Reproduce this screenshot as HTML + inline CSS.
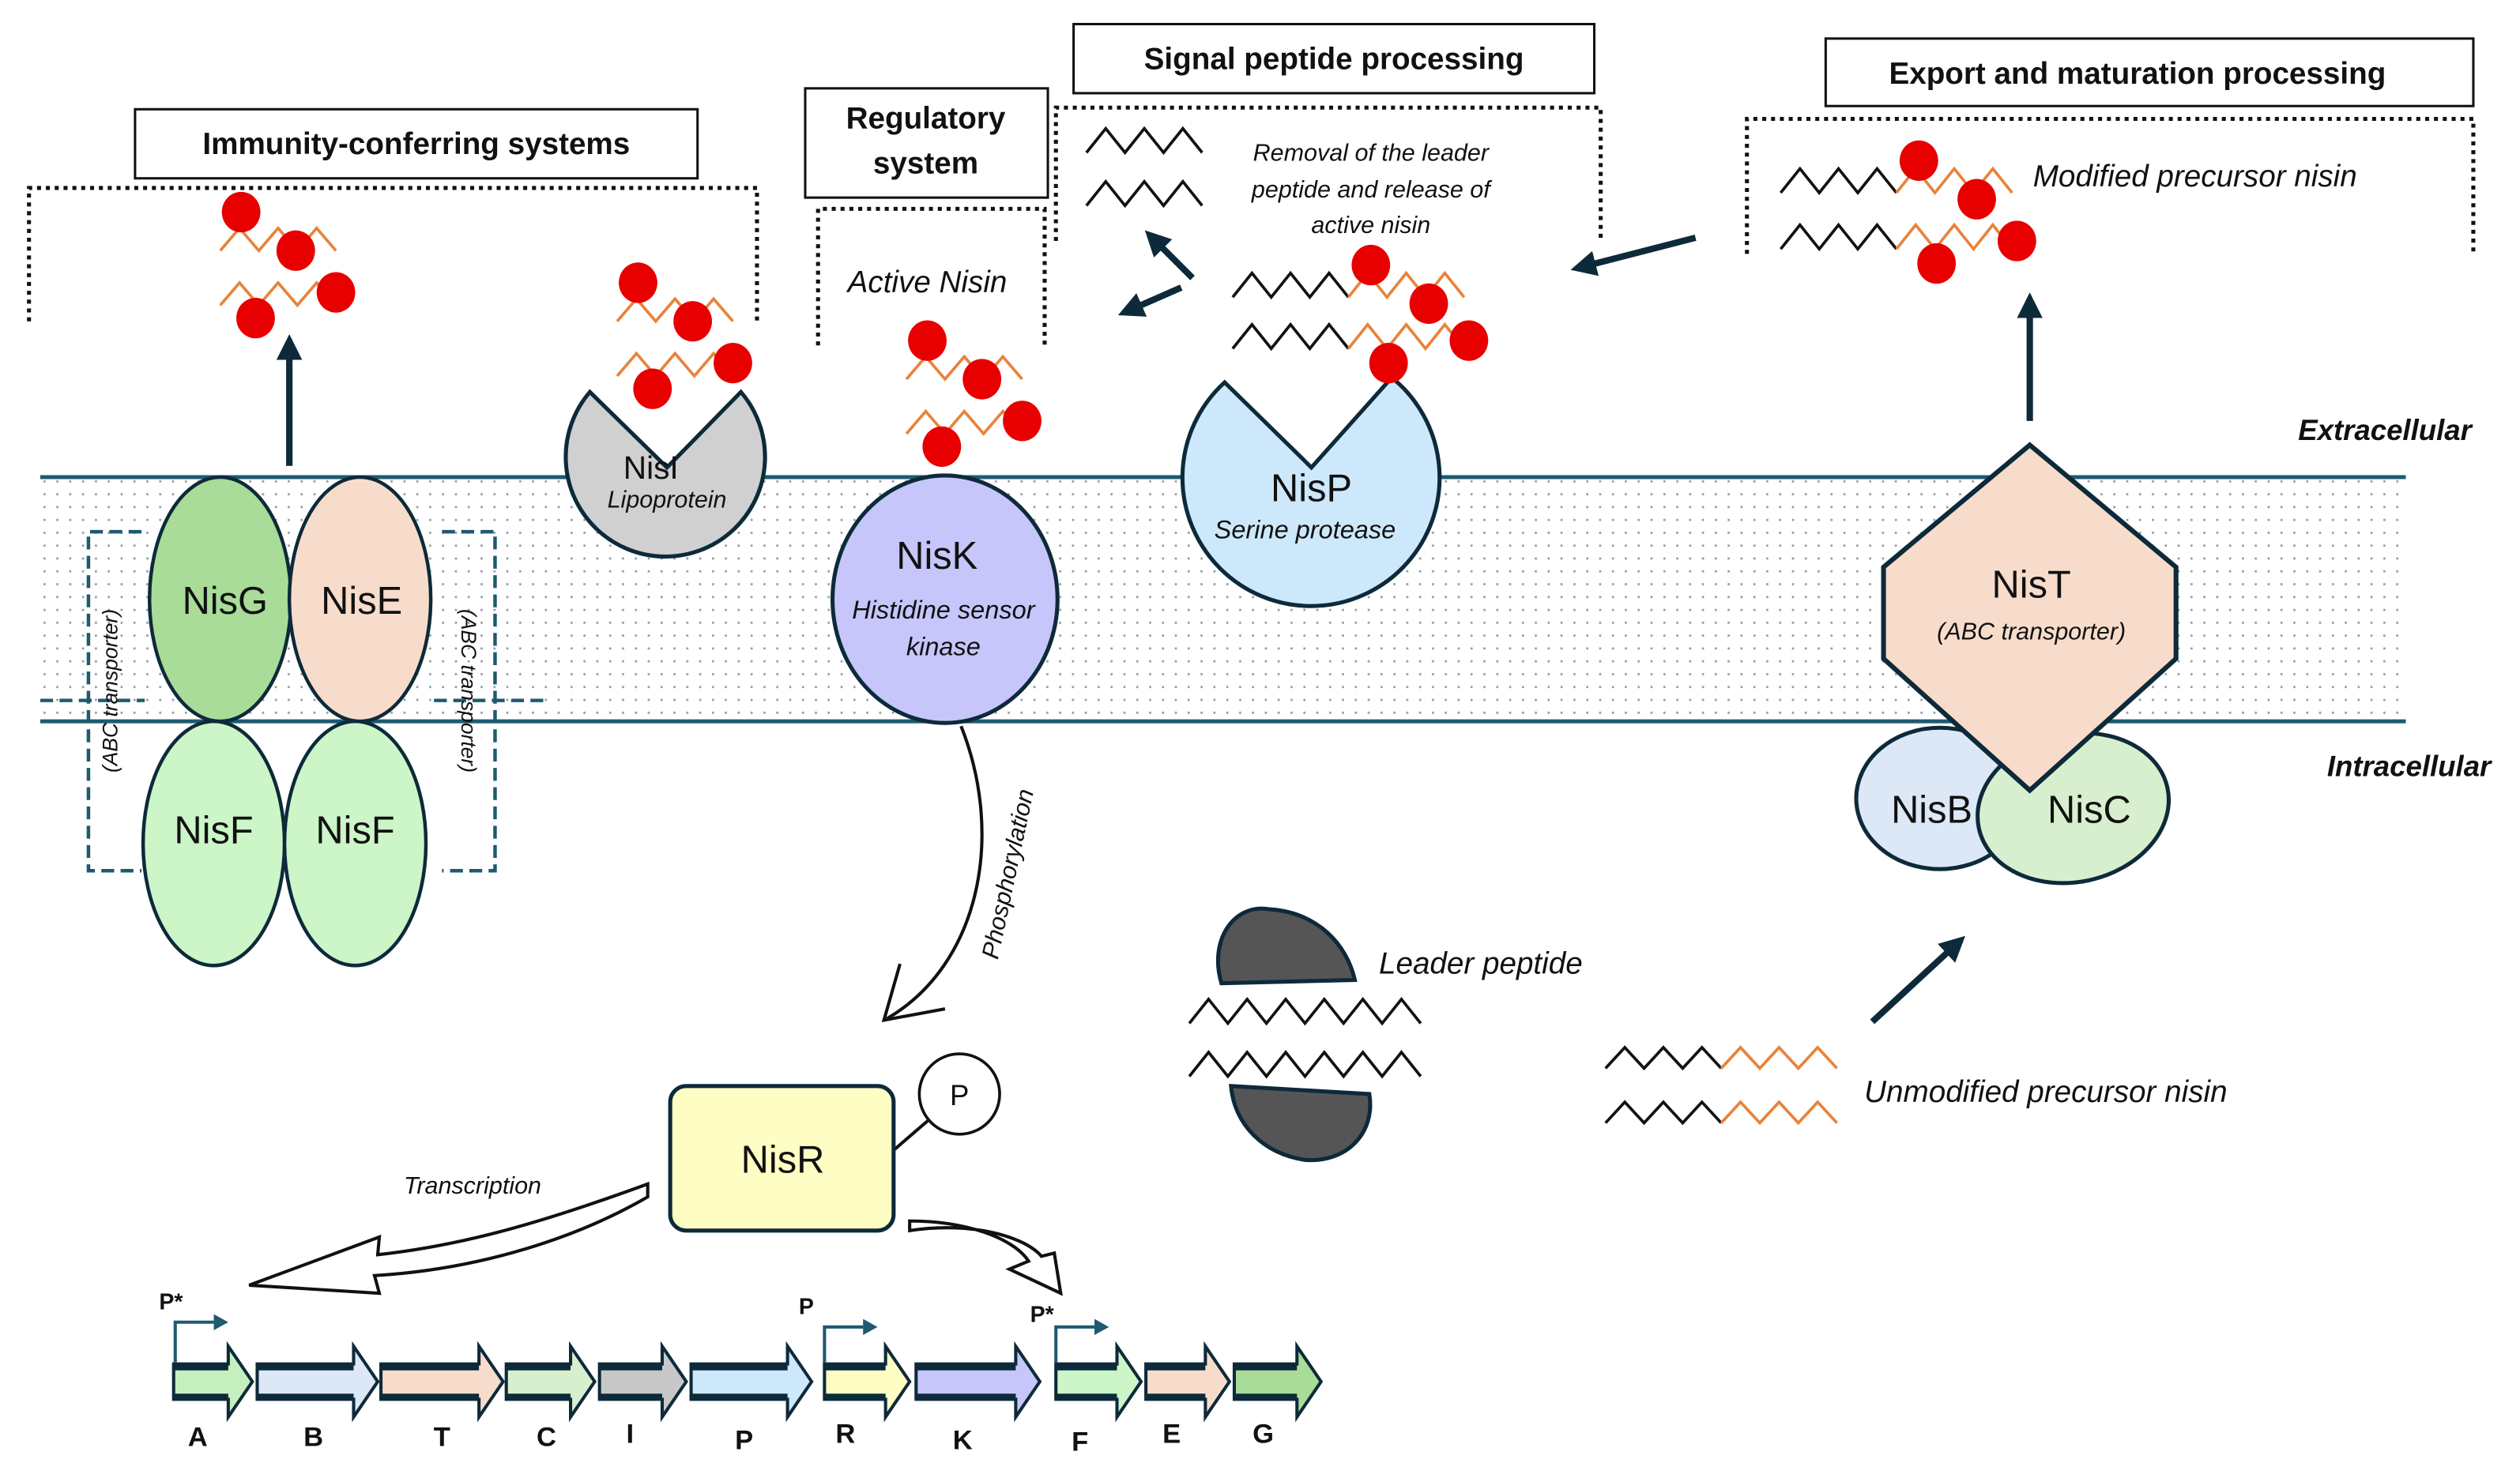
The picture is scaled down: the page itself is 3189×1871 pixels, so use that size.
<!DOCTYPE html>
<html><head><meta charset="utf-8"><style>
html,body{margin:0;padding:0;background:#fff;}
svg{display:block;}
text{font-family:"Liberation Sans",sans-serif;fill:#111;}
</style></head><body>
<svg id="s" width="3189" height="1871" viewBox="0 0 1568 920" xmlns="http://www.w3.org/2000/svg">
<defs>
<pattern id="dots" width="8" height="8" patternUnits="userSpaceOnUse">
<rect x="3" y="3" width="1.3" height="1.3" fill="#8a9aa4"/>
</pattern>
<marker id="ah" markerWidth="4" markerHeight="4" refX="2" refY="2" orient="auto" markerUnits="strokeWidth"><path d="M0,0 L4,2 L0,4 z" fill="#0d2a3a"/></marker>
</defs>
<rect width="1568" height="920" fill="#fff"/>
<rect x="25" y="297" width="1472" height="152" fill="url(#dots)"/>
<line x1="25" y1="297" x2="1497" y2="297" stroke="#1e5a70" stroke-width="2.5"/>
<line x1="25" y1="449" x2="1497" y2="449" stroke="#1e5a70" stroke-width="2.5"/>
<text x="1538" y="274" text-anchor="end" font-size="18" font-weight="bold" font-style="italic">Extracellular</text>
<text x="1550" y="483" text-anchor="end" font-size="18" font-weight="bold" font-style="italic">Intracellular</text>

<g fill="#fff" stroke="#111" stroke-width="1.5">
<rect x="84" y="68" width="350" height="43"/>
<rect x="501" y="55" width="151" height="68"/>
<rect x="668" y="15" width="324" height="43"/>
<rect x="1136" y="24" width="403" height="42"/>
</g>
<g font-weight="bold" font-size="19" text-anchor="middle">
<text x="259" y="96">Immunity-conferring systems</text>
<text x="576" y="80">Regulatory</text>
<text x="576" y="108">system</text>
<text x="830" y="43">Signal peptide processing</text>
<text x="1330" y="52">Export and maturation processing</text>
</g>
<g fill="none" stroke="#111" stroke-width="2.5" stroke-dasharray="2.5,3">
<path d="M18,200 V117 H471 V200"/>
<path d="M509,215 V130 H650 V215"/>
<path d="M657,150 V67 H996 V150"/>
<path d="M1087,158 V74 H1539 V158"/>
</g>

<g fill="none" stroke="#1e5a70" stroke-width="2.2" stroke-dasharray="8,4">
<path d="M88,331 H55 V542 H88"/>
<path d="M275,331 H308 V542 H275"/>
<line x1="25" y1="436" x2="90" y2="436"/>
<line x1="270" y1="436" x2="340" y2="436"/>
</g>
<text transform="translate(73,430) rotate(-90)" text-anchor="middle" font-size="13" font-style="italic">(ABC transporter)</text>
<text transform="translate(287,430) rotate(90)" text-anchor="middle" font-size="13" font-style="italic">(ABC transporter)</text>

<g stroke="#0d2a3a" stroke-width="2.2">
<ellipse cx="133" cy="525" rx="44" ry="76" fill="#ccf5c8"/>
<ellipse cx="221" cy="525" rx="44" ry="76" fill="#ccf5c8"/>
<ellipse cx="137" cy="373" rx="44" ry="76" fill="#a9dc98"/>
<ellipse cx="224" cy="373" rx="44" ry="76" fill="#f8dccb"/>
</g>
<g font-size="24" text-anchor="middle">
<text x="140" y="382">NisG</text><text x="225" y="382">NisE</text>
<text x="133" y="525">NisF</text><text x="221" y="525">NisF</text>
</g>

<path d="M367,244 L415,291 L461,244 A62,62 0 1 1 367,244 Z" fill="#d0d0d0" stroke="#0d2a3a" stroke-width="2.5"/>
<text x="405" y="298" text-anchor="middle" font-size="20">NisI</text>
<text x="415" y="316" text-anchor="middle" font-size="15" font-style="italic">Lipoprotein</text>

<ellipse cx="588" cy="373" rx="70" ry="77" fill="#c6c6fa" stroke="#0d2a3a" stroke-width="2.5"/>
<text x="583" y="354" text-anchor="middle" font-size="24">NisK</text>
<text x="587" y="385" text-anchor="middle" font-size="16" font-style="italic">Histidine sensor</text>
<text x="587" y="408" text-anchor="middle" font-size="16" font-style="italic">kinase</text>
<text x="577" y="182" text-anchor="middle" font-size="19" font-style="italic">Active Nisin</text>

<path d="M762,238 L816,291 L866,235 A80,80 0 1 1 762,238 Z" fill="#cde8fb" stroke="#0d2a3a" stroke-width="2.5"/>
<text x="816" y="312" text-anchor="middle" font-size="24">NisP</text>
<text x="812" y="335" text-anchor="middle" font-size="16" font-style="italic">Serine protease</text>

<text x="853" y="100" text-anchor="middle" font-size="15" font-style="italic">Removal of the leader</text>
<text x="853" y="123" text-anchor="middle" font-size="15" font-style="italic">peptide and release of</text>
<text x="853" y="145" text-anchor="middle" font-size="15" font-style="italic">active nisin</text>

<g stroke="#0d2a3a" stroke-width="2.5">
<ellipse cx="1207" cy="497" rx="52" ry="44" fill="#dce8f6"/>
<ellipse cx="1290" cy="503" rx="60" ry="46" transform="rotate(-12 1290 503)" fill="#d8efcf"/>
<path d="M1263,277 L1354,353 L1354,410 L1263,492 L1172,410 L1172,353 Z" fill="#f8dccb" stroke-width="3"/>
</g>
<text x="1264" y="372" text-anchor="middle" font-size="24">NisT</text>
<text x="1264" y="398" text-anchor="middle" font-size="15" font-style="italic">(ABC transporter)</text>
<text x="1202" y="512" text-anchor="middle" font-size="24">NisB</text>
<text x="1300" y="512" text-anchor="middle" font-size="24">NisC</text>

<text x="1265" y="116" font-size="19" font-style="italic">Modified precursor nisin</text>
<text x="858" y="606" font-size="19" font-style="italic">Leader peptide</text>
<text x="1160" y="686" font-size="19" font-style="italic">Unmodified precursor nisin</text>

<path d="M760,612 C752,585 768,562 790,566 C820,568 838,588 843,610 Z" fill="#555" stroke="#0d2a3a" stroke-width="2.5"/>
<path d="M766,676 L852,681 C856,705 838,724 812,722 C786,718 768,700 766,676 Z" fill="#555" stroke="#0d2a3a" stroke-width="2.5"/>

<g stroke="#0d2a3a" stroke-width="4" fill="none" marker-end="url(#ah)">
<line x1="180" y1="290" x2="180" y2="216"/>
<line x1="1263" y1="262" x2="1263" y2="190"/>
<line x1="1055" y1="148" x2="985" y2="166"/>
<line x1="742" y1="173" x2="718" y2="149"/>
<line x1="735" y1="179" x2="703" y2="193"/>
<line x1="1165" y1="636" x2="1217" y2="588"/>
</g>

<path d="M598,452 C625,520 610,600 552,634" fill="none" stroke="#111" stroke-width="2"/>
<path d="M560,600 L550,635 L588,628" fill="none" stroke="#111" stroke-width="2"/>
<text transform="translate(632,545) rotate(-78)" text-anchor="middle" font-size="15" font-style="italic">Phosphorylation</text>

<line x1="556" y1="716" x2="578" y2="697" stroke="#111" stroke-width="2"/>
<rect x="417" y="676" width="139" height="90" rx="10" fill="#fdfdc4" stroke="#0d2a3a" stroke-width="2.5"/>
<text x="487" y="730" text-anchor="middle" font-size="24">NisR</text>
<circle cx="597" cy="681" r="25" fill="#fff" stroke="#111" stroke-width="1.8"/>
<text x="597" y="688" text-anchor="middle" font-size="18">P</text>
<text x="294" y="743" text-anchor="middle" font-size="15" font-style="italic">Transcription</text>

<path d="M403,737 C340,760 290,775 235,781 L236,770 L155,800 L236,805 L233,794 C300,790 360,770 403,745 Z" fill="#fff" stroke="#111" stroke-width="2"/>
<path d="M566,760 C600,760 630,770 640,785 L628,790 L660,805 L656,780 L648,782 C638,770 605,760 566,766 Z" fill="#fff" stroke="#111" stroke-width="2"/>

<g fill="none" stroke="#1e5a70" stroke-width="2">
<path d="M109,848 V823 H133"/><path d="M513,848 V826 H537"/><path d="M657,848 V826 H681"/>
</g>
<g fill="#1e5a70"><path d="M133,818 L142,823 L133,828z"/><path d="M537,821 L546,826 L537,831z"/><path d="M681,821 L690,826 L681,831z"/></g>
<g font-weight="bold" font-size="14">
<text x="99" y="815">P*</text><text x="497" y="818">P</text><text x="641" y="823">P*</text>
</g>
<g id="genes" stroke="#0d2a3a" stroke-width="2"></g>
<g font-weight="bold" font-size="17" text-anchor="middle">
<text x="123" y="900">A</text><text x="195" y="900">B</text><text x="275" y="900">T</text><text x="340" y="900">C</text><text x="392" y="898">I</text><text x="463" y="902">P</text><text x="526" y="898">R</text><text x="599" y="902">K</text><text x="672" y="903">F</text><text x="729" y="898">E</text><text x="786" y="898">G</text>
</g>
<g id="pep"></g>
</svg>
<script>
var NS="http://www.w3.org/2000/svg";
function el(tag,attrs,parent){var e=document.createElementNS(NS,tag);for(var k in attrs)e.setAttribute(k,attrs[k]);(parent||document.getElementById('pep')).appendChild(e);return e;}
function zz(x,y,n,w,h,c,sw){var p=[];for(var i=0;i<n;i++){p.push((x+i*w)+","+y);p.push((x+i*w+w/2)+","+(y-h));}p.push((x+n*w)+","+y);el('polyline',{points:p.join(' '),fill:'none',stroke:c,'stroke-width':sw||1.8});}
function dot(x,y,r){el('ellipse',{cx:x,cy:y,rx:r||12,ry:(r||12)*1.05,fill:'#e80000'});}
var OR='#e8833a';
function nisin(x,y){zz(x-13,y+24,3,24,14,OR);zz(x-13,y+58,3,24,14,OR);dot(x,y);dot(x+34,y+24);dot(x+59,y+50);dot(x+9,y+66);}
nisin(150,132);nisin(397,176);nisin(577,212);
function prec(x,y1,y2){zz(x,y1,3,24,15,'#111');zz(x+72,y1,3,24,15,OR);zz(x,y2,3,24,15,'#111');zz(x+72,y2,3,24,15,OR);
 dot(x+86,y1-20);dot(x+122,y1+4);dot(x+147,y2-5);dot(x+97,y2+9);}
prec(767,185,217);prec(1108,120,155);
zz(676,95,3,24,15,'#111');zz(676,128,3,24,15,'#111');
zz(740,637,6,24,15,'#111');zz(740,670,6,24,15,'#111');
zz(999,665,3,24,13,'#111');zz(1071,665,3,24,13,OR);
zz(999,699,3,24,13,'#111');zz(1071,699,3,24,13,OR);
var genes=[[108,157,'#c6efc0'],[160,235,'#dce8f6'],[237,313,'#f8dccb'],[315,370,'#d8efcf'],[373,427,'#c8c8c8'],[430,505,'#cde8fb'],[513,566,'#fdfdc4'],[570,647,'#c6c6fa'],[657,710,'#ccf5c8'],[713,765,'#f8dccb'],[768,822,'#a9dc98']];
var g=document.getElementById('genes');
genes.forEach(function(a){var x0=a[0],x1=a[1],hx=x1-15;
el('path',{d:'M'+x0+',849 H'+hx+' V838 L'+x1+',860 L'+hx+',882 V871 H'+x0+' Z',fill:a[2]},g);
el('line',{x1:x0,y1:851,x2:hx,y2:851,stroke:'#0d2a3a','stroke-width':4},g);
el('line',{x1:x0,y1:869,x2:hx,y2:869,stroke:'#0d2a3a','stroke-width':3},g);});
</script>
</body></html>
